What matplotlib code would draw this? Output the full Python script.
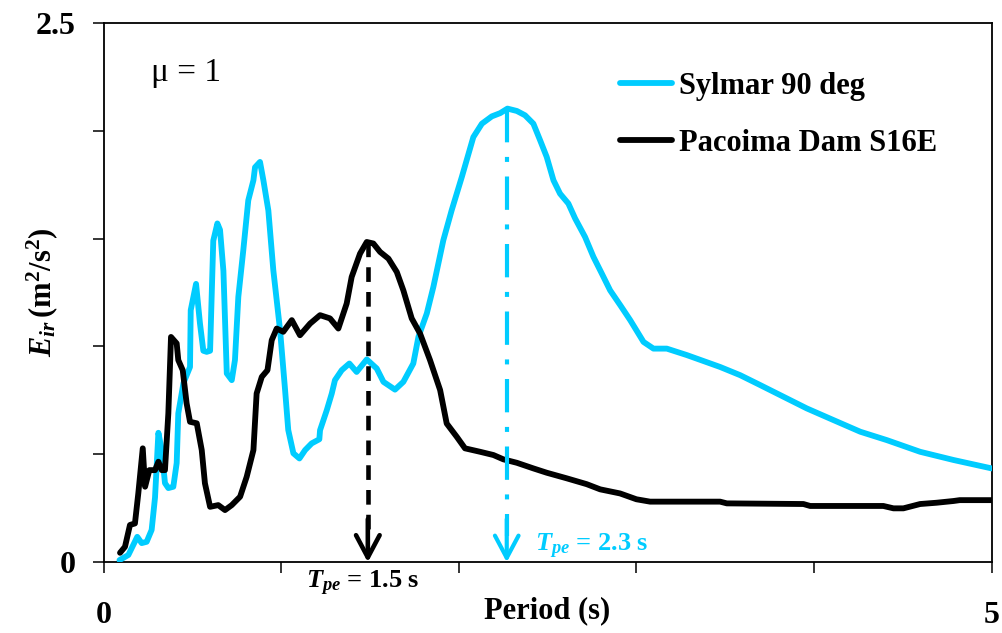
import matplotlib
matplotlib.use("Agg")
import matplotlib.pyplot as plt

# ---------------- data ----------------
sylmar_T = [0.09, 0.14, 0.19, 0.215, 0.243, 0.271, 0.29, 0.309, 0.328, 0.346,
            0.365, 0.393, 0.412, 0.421, 0.45, 0.487, 0.491, 0.521, 0.543, 0.562,
            0.581, 0.60, 0.618, 0.641, 0.656, 0.675, 0.694, 0.722, 0.74, 0.759,
            0.787, 0.815, 0.844, 0.853, 0.881, 0.90, 0.928, 0.956, 0.994, 1.022,
            1.04, 1.069, 1.103, 1.135, 1.172, 1.215, 1.219, 1.257, 1.285, 1.303,
            1.341, 1.384, 1.425, 1.482, 1.538, 1.576, 1.641, 1.688, 1.744, 1.773,
            1.82, 1.857, 1.913, 1.96, 2.017, 2.082, 2.13, 2.186, 2.233, 2.274,
            2.327, 2.373, 2.42, 2.458, 2.495, 2.533, 2.57, 2.617, 2.655, 2.711,
            2.758, 2.805, 2.852, 2.91, 2.965, 3.04, 3.096, 3.171, 3.284, 3.471,
            3.584, 3.697, 3.828, 3.959, 4.109, 4.26, 4.41, 4.597, 4.785, 5.0]
sylmar_E = [0.01, 0.034, 0.118, 0.089, 0.095, 0.15, 0.30, 0.60, 0.52, 0.367,
            0.344, 0.35, 0.46, 0.69, 0.83, 0.905, 1.168, 1.29, 1.107, 0.98,
            0.975, 0.98, 1.49, 1.57, 1.54, 1.35, 0.875, 0.844, 0.937, 1.23,
            1.446, 1.677, 1.77, 1.83, 1.855, 1.77, 1.63, 1.353, 1.075, 0.80,
            0.613, 0.505, 0.481, 0.52, 0.551, 0.57, 0.612, 0.705, 0.782, 0.844,
            0.89, 0.921, 0.882, 0.94, 0.898, 0.836, 0.80, 0.836, 0.921, 1.045,
            1.153, 1.276, 1.492, 1.631, 1.785, 1.97, 2.032, 2.066, 2.081, 2.102,
            2.091, 2.071, 2.032, 1.955, 1.878, 1.77, 1.708, 1.662, 1.593, 1.507,
            1.415, 1.338, 1.26, 1.19, 1.122, 1.021, 0.99, 0.99, 0.96, 0.905,
            0.867, 0.821, 0.767, 0.713, 0.659, 0.605, 0.566, 0.512, 0.474, 0.435]

pacoima_T = [0.093, 0.121, 0.149, 0.177, 0.196, 0.221, 0.234, 0.258, 0.29, 0.309,
             0.328, 0.346, 0.365, 0.38, 0.412, 0.421, 0.446, 0.468, 0.487, 0.525,
             0.553, 0.571, 0.60, 0.646, 0.684, 0.722, 0.769, 0.806, 0.844, 0.862,
             0.891, 0.923, 0.947, 0.975, 1.012, 1.06, 1.106, 1.163, 1.219, 1.275,
             1.322, 1.369, 1.397, 1.444, 1.482, 1.519, 1.557, 1.604, 1.651, 1.688,
             1.735, 1.782, 1.838, 1.895, 1.932, 1.989, 2.035, 2.12, 2.195, 2.251,
             2.327, 2.42, 2.495, 2.608, 2.72, 2.796, 2.908, 3.0, 3.077, 3.471,
             3.509, 3.94, 3.978, 4.39, 4.447, 4.503, 4.597, 4.69, 4.785, 4.82,
             5.0]
pacoima_E = [0.044, 0.072, 0.173, 0.18, 0.32, 0.528, 0.35, 0.427, 0.427, 0.466,
             0.427, 0.427, 0.69, 1.044, 1.014, 0.937, 0.89, 0.736, 0.651, 0.644,
             0.52, 0.366, 0.257, 0.265, 0.242, 0.265, 0.304, 0.396, 0.52, 0.782,
             0.859, 0.89, 1.029, 1.083, 1.068, 1.122, 1.052, 1.106, 1.145, 1.13,
             1.083, 1.199, 1.322, 1.43, 1.484, 1.477, 1.438, 1.407, 1.345, 1.26,
             1.13, 1.06, 0.937, 0.798, 0.643, 0.581, 0.528, 0.512, 0.497, 0.477,
             0.461, 0.435, 0.415, 0.389, 0.362, 0.338, 0.319, 0.292, 0.281, 0.281,
             0.273, 0.27, 0.261, 0.261, 0.25, 0.25, 0.27, 0.276, 0.284, 0.288,
             0.288]

series_labels = ["Sylmar 90 deg", "Pacoima Dam S16E"]
tpe_sylmar = 2.27
tpe_sylmar_peak = 2.102
tpe_pacoima = 1.488
tpe_pacoima_peak = 1.484
x_ticks = [0, 1, 2, 3, 4, 5]
x_tick_labels = ["0", "", "", "", "", "5"]
y_ticks = [0, 0.5, 1.0, 1.5, 2.0, 2.5]
y_tick_labels = ["0", "", "", "", "", "2.5"]

CYAN = "#00CCFF"
BLACK = "#000000"

# ---------------- style ----------------
plt.rcParams["font.family"] = ["Liberation Serif", "DejaVu Serif"]
plt.rcParams["font.weight"] = "bold"
plt.rcParams["mathtext.fontset"] = "custom"
plt.rcParams["mathtext.rm"] = "Liberation Serif:bold"
plt.rcParams["mathtext.it"] = "Liberation Serif:italic:bold"
plt.rcParams["mathtext.bf"] = "Liberation Serif:bold"

W, H = 1002, 633
fig = plt.figure(figsize=(W / 100, H / 100), dpi=100)
ax = fig.add_axes([103.5 / W, 1 - 562.3 / H, (991.7 - 103.5) / W, (562.3 - 22.7) / H])

ax.plot(sylmar_T, sylmar_E, color=CYAN, lw=4.2, solid_joinstyle="round",
        solid_capstyle="round", label=series_labels[0], zorder=3)
ax.plot(pacoima_T, pacoima_E, color=BLACK, lw=4.2, solid_joinstyle="round",
        solid_capstyle="round", label=series_labels[1], zorder=4)

# T_pe arrows
arrow_style = "->,head_length=1.6,head_width=0.85"
ax.plot([tpe_pacoima, tpe_pacoima], [tpe_pacoima_peak, 0.12], color=BLACK, lw=3.3,
        dashes=(3.2, 2.2), zorder=5)
ax.annotate("", xy=(tpe_pacoima, 0.0), xytext=(tpe_pacoima, 0.2),
            arrowprops=dict(arrowstyle=arrow_style, color=BLACK, lw=3.3,
                            shrinkA=0, shrinkB=0), zorder=5)
ax.plot([tpe_sylmar, tpe_sylmar], [tpe_sylmar_peak, 0.12], color=CYAN, lw=3.0,
        dashes=(8, 3.5, 1.2, 3.5), zorder=5)
ax.annotate("", xy=(tpe_sylmar, 0.0), xytext=(tpe_sylmar, 0.2),
            arrowprops=dict(arrowstyle=arrow_style, color=CYAN, lw=3.0,
                            shrinkA=0, shrinkB=0), zorder=5)

ax.set_xlim(0, 5)
ax.set_ylim(0, 2.5)
ax.set_xticks(x_ticks)
ax.set_xticklabels(x_tick_labels)
ax.set_yticks(y_ticks)
ax.set_yticklabels(y_tick_labels)
ax.tick_params(axis="both", direction="out", length=8, width=1.1, labelsize=23)
ax.tick_params(axis="x", pad=20)
ax.tick_params(axis="y", pad=12)
for lab in ax.get_xticklabels() + ax.get_yticklabels():
    lab.set_fontweight("bold")
for sp in ax.spines.values():
    sp.set_linewidth(1.3)

# axis labels
fig.text(547.5 / W, 1 - 611 / H, "Period (s)", ha="center", va="center",
         fontsize=22, fontweight="bold")
fig.text(42 / W, 1 - 292 / H, r"$E_{ir}\,\mathrm{(m^2/s^2)}$", ha="center",
         va="center", rotation=90, fontsize=22)

# annotations
ax.text(0.27, 2.27, "μ = 1", fontsize=24, fontweight="normal", ha="left",
        va="center")
ax.text(tpe_pacoima - 0.35, -0.10, r"$T_{pe}$ = 1.5 s", fontsize=19, ha="left",
        va="center", color=BLACK, clip_on=False)
ax.text(tpe_sylmar + 0.16, 0.075, r"$T_{pe}$ = 2.3 s", fontsize=19, ha="left",
        va="center", color=CYAN)

leg = ax.legend(loc="upper left", bbox_to_anchor=(620 / W, 1 - 72 / H),
                bbox_transform=fig.transFigure, frameon=False, fontsize=22,
                handlelength=1.7, handletextpad=0.22, labelspacing=0.92,
                borderpad=0, borderaxespad=0)
for t in leg.get_texts():
    t.set_fontweight("bold")

fig.savefig("out.png", dpi=100)
